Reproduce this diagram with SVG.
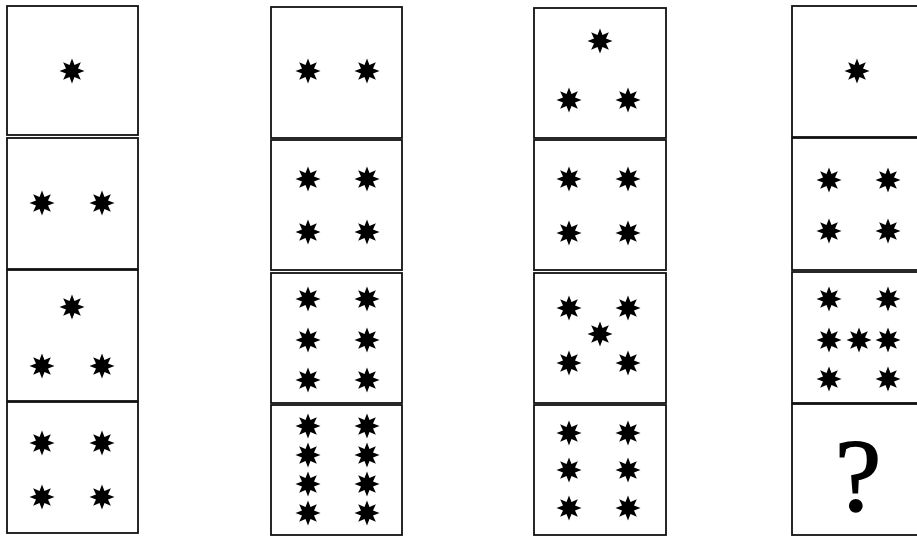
<svg xmlns="http://www.w3.org/2000/svg" xmlns:xlink="http://www.w3.org/1999/xlink" width="917" height="536" viewBox="0 0 917 536">
<style>
.box{fill:#fff;stroke:#111;stroke-width:1.8}
.q{font-family:"Liberation Serif","Times New Roman",serif;font-size:104px;fill:#000;stroke:#000;stroke-width:1.6;text-anchor:middle}
</style>
<defs>
<path id="star" d="M0,-12.5 L2.49,-6 L8.84,-8.84 L6,-2.49 L12.5,0 L6,2.49 L8.84,8.84 L2.49,6 L0,12.5 L-2.49,6 L-8.84,8.84 L-6,2.49 L-12.5,0 L-6,-2.49 L-8.84,-8.84 L-2.49,-6 Z" fill="#000"/>
</defs>
<rect width="917" height="536" fill="#fff"/>
<!-- Column 1 -->
<g id="c1r1"><rect class="box" x="7" y="6" width="131" height="129"/><use href="#star" x="72" y="71"/></g>
<g id="c1r2"><rect class="box" x="7" y="138" width="131" height="131"/><use href="#star" x="42" y="203"/><use href="#star" x="102" y="203"/></g>
<g id="c1r3"><rect class="box" x="7" y="270" width="131" height="131"/><use href="#star" x="72" y="307"/><use href="#star" x="42" y="366"/><use href="#star" x="102" y="366"/></g>
<g id="c1r4"><rect class="box" x="7" y="402" width="131" height="131"/><use href="#star" x="42" y="443"/><use href="#star" x="102" y="443"/><use href="#star" x="42" y="497"/><use href="#star" x="102" y="497"/></g>
<!-- Column 2 -->
<g id="c2r1"><rect class="box" x="271" y="7" width="131" height="131"/><use href="#star" x="308" y="71"/><use href="#star" x="367" y="71"/></g>
<g id="c2r2"><rect class="box" x="271" y="140" width="131" height="130"/><use href="#star" x="308" y="179"/><use href="#star" x="367" y="179"/><use href="#star" x="308" y="232"/><use href="#star" x="367" y="232"/></g>
<g id="c2r3"><rect class="box" x="271" y="273" width="131" height="130"/><use href="#star" x="308" y="299"/><use href="#star" x="367" y="299"/><use href="#star" x="308" y="340"/><use href="#star" x="367" y="340"/><use href="#star" x="308" y="380"/><use href="#star" x="367" y="380"/></g>
<g id="c2r4"><rect class="box" x="271" y="405" width="131" height="130"/><use href="#star" x="308" y="426"/><use href="#star" x="367" y="426"/><use href="#star" x="308" y="455"/><use href="#star" x="367" y="455"/><use href="#star" x="308" y="484"/><use href="#star" x="367" y="484"/><use href="#star" x="308" y="513"/><use href="#star" x="367" y="513"/></g>
<!-- Column 3 -->
<g id="c3r1"><rect class="box" x="534" y="8" width="132" height="130"/><use href="#star" x="600" y="41"/><use href="#star" x="569" y="100"/><use href="#star" x="628" y="100"/></g>
<g id="c3r2"><rect class="box" x="534" y="140" width="132" height="130"/><use href="#star" x="569" y="179"/><use href="#star" x="628" y="179"/><use href="#star" x="569" y="233"/><use href="#star" x="628" y="233"/></g>
<g id="c3r3"><rect class="box" x="534" y="273" width="132" height="130"/><use href="#star" x="569" y="308"/><use href="#star" x="628" y="308"/><use href="#star" x="600" y="334"/><use href="#star" x="569" y="363"/><use href="#star" x="628" y="363"/></g>
<g id="c3r4"><rect class="box" x="534" y="405" width="132" height="130"/><use href="#star" x="569" y="433"/><use href="#star" x="628" y="433"/><use href="#star" x="569" y="470"/><use href="#star" x="628" y="470"/><use href="#star" x="569" y="508"/><use href="#star" x="628" y="508"/></g>
<!-- Column 4 -->
<g id="c4r1"><rect class="box" x="792" y="6" width="132" height="131"/><use href="#star" x="857" y="71"/></g>
<g id="c4r2"><rect class="box" x="792" y="138" width="132" height="132"/><use href="#star" x="829" y="180"/><use href="#star" x="888" y="180"/><use href="#star" x="829" y="231"/><use href="#star" x="888" y="231"/></g>
<g id="c4r3"><rect class="box" x="792" y="272" width="132" height="131"/><use href="#star" x="829" y="299"/><use href="#star" x="888" y="299"/><use href="#star" x="829" y="340"/><use href="#star" x="859" y="340"/><use href="#star" x="888" y="340"/><use href="#star" x="829" y="379"/><use href="#star" x="888" y="379"/></g>
<g id="c4r4"><rect class="box" x="792" y="404" width="132" height="131"/><text class="q" x="858" y="511">?</text></g>
</svg>
